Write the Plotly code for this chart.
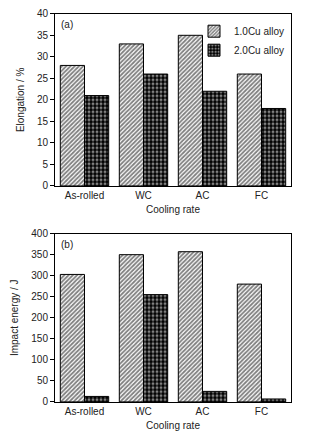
import plotly.graph_objects as go
from plotly.subplots import make_subplots

categories = ["As-rolled", "WC", "AC", "FC"]
elong_10cu = [28, 33, 35, 26]
elong_20cu = [21, 26, 22, 18]
impact_10cu = [303, 350, 357, 280]
impact_20cu = [13, 255, 25, 7]
series_names = ["1.0Cu alloy", "2.0Cu alloy"]

W, H = 321, 440
FONT = "Liberation Sans, Arial, sans-serif"

fig = make_subplots(rows=2, cols=1)

pat1 = dict(shape="/", fgcolor="black", bgcolor="white", size=3, solidity=0.6)
pat2 = dict(shape=".", fgcolor="white", bgcolor="black", size=4, solidity=0.45)

for row, (a, b) in enumerate([(elong_10cu, elong_20cu), (impact_10cu, impact_20cu)], start=1):
    fig.add_trace(go.Bar(x=categories, y=a, name=series_names[0], showlegend=(row == 1),
                         marker=dict(color="white", pattern=pat1, line=dict(color="black", width=1))),
                  row=row, col=1)
    fig.add_trace(go.Bar(x=categories, y=b, name=series_names[1], showlegend=(row == 1),
                         marker=dict(color="black", pattern=pat2, line=dict(color="black", width=1))),
                  row=row, col=1)

def px_y(y):
    return 1 - y / H

xdom = [55 / W, 291 / W]
axis_common = dict(showline=True, linecolor="black", linewidth=1, mirror=True,
                   tickfont=dict(family=FONT, size=10, color="#222"),
                   title_font=dict(family=FONT, size=10, color="#222"))

fig.update_layout(
    width=W, height=H, margin=dict(l=0, r=0, t=0, b=0),
    paper_bgcolor="white", plot_bgcolor="white",
    barmode="group", bargap=0.18, bargroupgap=0,
    font=dict(family=FONT, size=10, color="#222"),
    legend=dict(x=290 / W, y=px_y(11), xanchor="right", yanchor="top",
                bgcolor="rgba(0,0,0,0)", font=dict(family=FONT, size=10, color="#222"),
                itemwidth=30, tracegroupgap=0),
    xaxis=dict(domain=xdom, anchor="y", ticks="", title=dict(text="Cooling rate", standoff=6), **axis_common),
    yaxis=dict(domain=[px_y(185), px_y(8)], anchor="x", range=[0, 40], dtick=5,
               ticks="outside", ticklen=4, tickcolor="black", showgrid=False, zeroline=False,
               title=dict(text="Elongation / %", standoff=10), **axis_common),
    xaxis2=dict(domain=xdom, anchor="y2", ticks="", title=dict(text="Cooling rate", standoff=6), **axis_common),
    yaxis2=dict(domain=[px_y(407), px_y(234)], anchor="x2", range=[0, 400], dtick=50,
                ticks="outside", ticklen=4, tickcolor="black", showgrid=False, zeroline=False,
                title=dict(text="Impact energy / J", standoff=10), **axis_common),
)

fig.add_annotation(text="(a)", x=xdom[0] + 4 / W, y=px_y(11), xref="paper", yref="paper",
                   xanchor="left", yanchor="top", showarrow=False,
                   font=dict(family=FONT, size=10, color="#222"))
fig.add_annotation(text="(b)", x=xdom[0] + 4 / W, y=px_y(237), xref="paper", yref="paper",
                   xanchor="left", yanchor="top", showarrow=False,
                   font=dict(family=FONT, size=10, color="#222"))

fig.write_html("out.html")
